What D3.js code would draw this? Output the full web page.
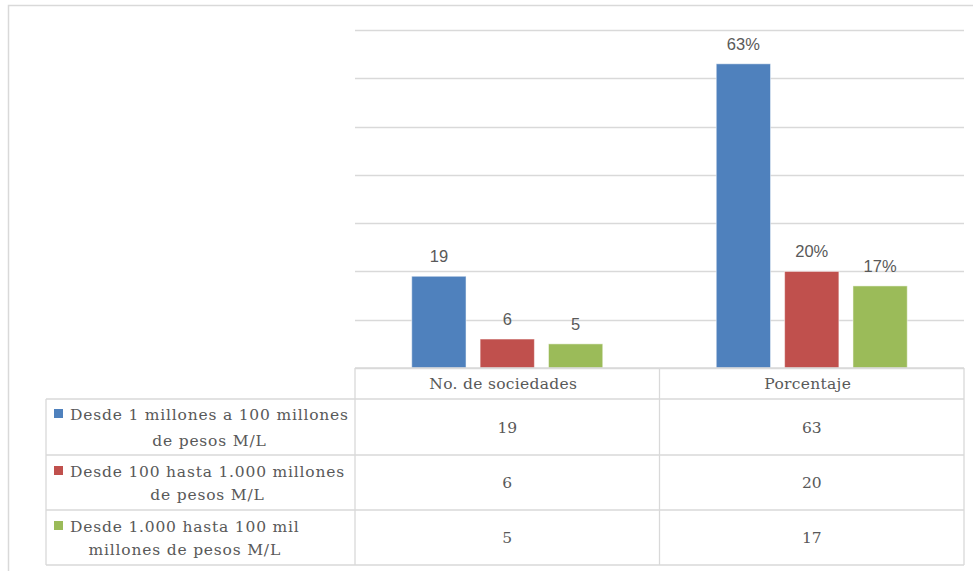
<!DOCTYPE html>
<html><head><meta charset="utf-8">
<script src="https://cdn.jsdelivr.net/npm/d3@7"></script>
<style>body{margin:0;background:#fff}svg{display:block}</style>
</head><body>
<svg id="c" width="973" height="571"></svg>
<script>
const categories = ["No. de sociedades", "Porcentaje"];
const seriesNames = [
  ["Desde 1 millones a 100 millones", "de pesos M/L"],
  ["Desde 100 hasta 1.000 millones", "de pesos M/L"],
  ["Desde 1.000 hasta 100 mil", "millones de pesos M/L"]
];
const seriesValues = [
  [19, 63],
  [6, 20],
  [5, 17]
];
const labelSuffix = ["", "%"];
const colors = ["#4F81BD", "#C0504D", "#9BBB59"];
const yTicks = [0, 10, 20, 30, 40, 50, 60, 70];

const svg = d3.select("#c");
const grid = "#d9d9d9", txt = "#595959";
const serif = "DejaVu Serif";
const sans = "Liberation Sans";

// outer frame
svg.append("path").attr("d", "M8.5,571 V5.5 H973").attr("fill", "none").attr("stroke", grid).attr("stroke-width", 1.5);

const plotL = 355, plotR = 964, plotT = 30, plotB = 368;
const x = d3.scaleBand().domain(categories).range([plotL, plotR]).paddingInner(0).paddingOuter(0);
const y = d3.scaleLinear().domain([0, 70]).range([plotB, plotT]);
const xs = d3.scaleBand().domain(d3.range(seriesValues.length)).range([0, x.bandwidth()]).paddingInner(0.206).paddingOuter(0.83);

// gridlines
svg.append("g").selectAll("line").data(yTicks).join("line")
  .attr("x1", plotL).attr("x2", plotR)
  .attr("y1", d => Math.round(y(d)) + 0.5).attr("y2", d => Math.round(y(d)) + 0.5)
  .attr("stroke", grid).attr("stroke-width", 1.3);

// bars
seriesValues.forEach((vals, s) => {
  const g = svg.append("g");
  g.selectAll("rect").data(vals).join("rect")
    .attr("x", (d, i) => x(categories[i]) + xs(s))
    .attr("width", xs.bandwidth())
    .attr("y", d => y(d))
    .attr("height", d => y(0) - y(d))
    .attr("fill", colors[s]).attr("stroke", "#fff").attr("stroke-opacity", 0.5).attr("stroke-width", 1);
  g.selectAll("text").data(vals).join("text")
    .attr("x", (d, i) => x(categories[i]) + xs(s) + xs.bandwidth() / 2)
    .attr("y", d => y(d) - 14)
    .attr("text-anchor", "middle")
    .style("font-family", sans).attr("font-size", 16.5).attr("fill", txt)
    .text((d, i) => d + labelSuffix[i]);
});

// data table
const rowY = [368, 399, 455, 510, 565];
const tableL = 46;
const tg = svg.append("g").attr("stroke", grid).attr("stroke-width", 1.3).attr("fill", "none");
tg.append("line").attr("x1", plotL).attr("x2", plotR).attr("y1", rowY[0]).attr("y2", rowY[0]);
for (let r = 1; r < rowY.length; r++) {
  tg.append("line").attr("x1", tableL).attr("x2", plotR).attr("y1", rowY[r]).attr("y2", rowY[r]);
}
tg.append("line").attr("x1", tableL).attr("x2", tableL).attr("y1", rowY[1]).attr("y2", rowY[4]);
[plotL, x(categories[1]), plotR].forEach(xx => {
  tg.append("line").attr("x1", xx).attr("x2", xx).attr("y1", rowY[0]).attr("y2", rowY[4]);
});

// header text
svg.append("g").selectAll("text").data(categories).join("text")
  .attr("x", d => x(d) + x.bandwidth() / 2 - 4)
  .attr("y", (rowY[0] + rowY[1]) / 2 + 5.5)
  .attr("text-anchor", "middle")
  .style("font-family", serif).attr("font-size", 15.5).style("letter-spacing", "0.3px").attr("fill", txt)
  .text(d => d);

// rows
const lineH = [26, 23, 23];
seriesValues.forEach((vals, s) => {
  const top = rowY[s + 1], bot = rowY[s + 2], mid = (top + bot) / 2;
  const lh = lineH[s];
  const textX = 70;
  const g = svg.append("g");
  const lines = seriesNames[s];
  const ts = lines.map((ln, i) => g.append("text")
    .attr("y", mid - lh / 2 + i * lh + 5.5)
    .style("font-family", serif).attr("font-size", 15.5).style("letter-spacing", "0.8px").attr("fill", txt)
    .text(ln));
  const widths = ts.map(t => t.node().getComputedTextLength());
  const bw = d3.max(widths);
  ts.forEach((t, i) => t.attr("x", textX + (bw - widths[i]) / 2));
  g.append("rect").attr("x", 54).attr("y", mid - lh / 2 - 5).attr("width", 9).attr("height", 9).attr("fill", colors[s]);
  g.selectAll("text.v").data(vals).join("text").attr("class", "v")
    .attr("x", (d, i) => x(categories[i]) + x.bandwidth() / 2)
    .attr("y", mid + 5.5)
    .attr("text-anchor", "middle")
    .style("font-family", serif).attr("font-size", 15.5).attr("fill", txt)
    .text(d => d);
});
</script>
</body></html>
